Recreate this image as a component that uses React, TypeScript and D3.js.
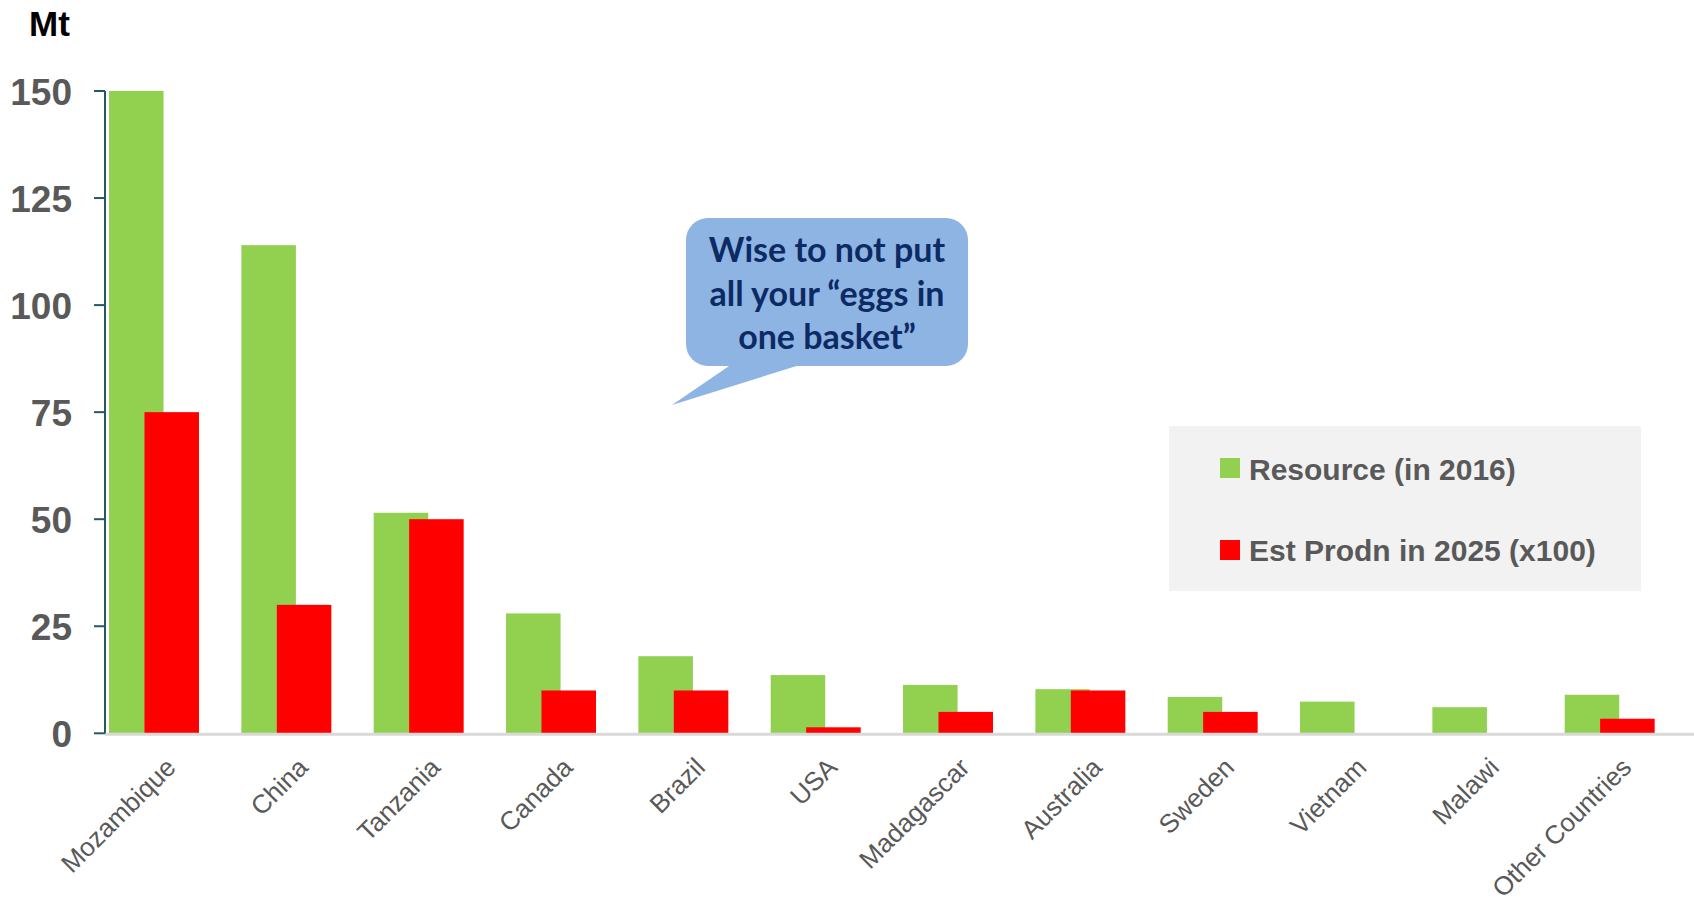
import React from "react";
import * as d3 from "d3";

const categories = [
  "Mozambique", "China", "Tanzania", "Canada", "Brazil", "USA",
  "Madagascar", "Australia", "Sweden", "Vietnam", "Malawi", "Other Countries",
];
const resource2016 = [150, 114, 51.5, 28, 18, 13.6, 11.3, 10.3, 8.5, 7.4, 6.1, 9.0];
const prodn2025x100 = [75, 30, 50, 10, 10, 1.4, 5, 10, 5, 0, 0, 3.4];
const yTicks = [0, 25, 50, 75, 100, 125, 150];
const seriesNames = ["Resource (in 2016)", "Est Prodn in 2025 (x100)"];
const bubbleLines = ["Wise to not put", "all your \u201ceggs in", "one basket\u201d"];

const W = 1694;
const H = 902;
const GREEN = "#92d050";
const RED = "#ff0000";
const GRAY = "#595959";

export default function App() {
  const x = d3.scaleBand<string>().domain(categories).range([88, 1676]).padding(0);
  const y = d3.scaleLinear().domain([0, 150]).range([733.3, 91]);
  const bw = x.bandwidth();
  const outer = bw * 0.159;
  const barW = bw * 0.412;
  const shift = barW * 0.65;
  const axisX = 105;

  return (
    <svg width={W} height={H} style={{ position: "absolute", left: 0, top: 0, background: "#fff" }}
      fontFamily="'Liberation Sans', Arial, sans-serif">
      {/* Mt label */}
      <text x={29} y={36} fontSize={35} fontWeight="bold" fill="#000">Mt</text>

      {/* bars */}
      {categories.map((c, i) => (
        <g key={c}>
          <rect x={(x(c) as number) + outer} y={y(resource2016[i])} width={barW}
            height={y(0) - y(resource2016[i])} fill={GREEN} />
          {prodn2025x100[i] > 0 && (
            <rect x={(x(c) as number) + outer + shift} y={y(prodn2025x100[i])} width={barW}
              height={y(0) - y(prodn2025x100[i])} fill={RED} />
          )}
        </g>
      ))}

      {/* baseline */}
      <line x1={axisX} x2={W} y1={y(0) + 1} y2={y(0) + 1} stroke="#d9d9d9" strokeWidth={3} />

      {/* y axis */}
      <line x1={axisX} x2={axisX} y1={y(150)} y2={y(0)} stroke="#215968" strokeWidth={2} />
      {yTicks.map((t) => (
        <g key={t}>
          <line x1={94} x2={axisX} y1={y(t)} y2={y(t)} stroke="#215968" strokeWidth={2} />
          <text x={72} y={y(t) + 13.5} textAnchor="end" fontSize={37} fontWeight="bold" fill={GRAY}>{t}</text>
        </g>
      ))}

      {/* category labels */}
      {categories.map((c) => {
        const ax = (x(c) as number) + bw / 2 + 23;
        const ay = 769;
        return (
          <text key={c} x={ax} y={ay} transform={`rotate(-45 ${ax} ${ay})`} textAnchor="end"
            fontSize={26} fill={GRAY}>{c}</text>
        );
      })}

      {/* speech bubble */}
      <path d="M 732 364 L 672 405 L 803 364 Z" fill="#8eb4e3" />
      <rect x={686} y={218} width={282} height={148} rx={22} ry={22} fill="#8eb4e3" />
      {bubbleLines.map((l, i) => (
        <text key={i} x={827} y={262 + i * 43.5} textAnchor="middle" fontSize={34}
          fontWeight="bold" fontFamily="Lato, 'Open Sans', sans-serif" fill="#0c2a63">{l}</text>
      ))}

      {/* legend */}
      <rect x={1169} y={426} width={472} height={165} fill="#f2f2f2" />
      {seriesNames.map((s, i) => (
        <g key={s}>
          <rect x={1220} y={458 + i * 82} width={20} height={20} fill={i === 0 ? GREEN : RED} />
          <text x={1249} y={480 + i * 81} fontSize={30} fontWeight="bold" fill={GRAY}>{s}</text>
        </g>
      ))}
    </svg>
  );
}
